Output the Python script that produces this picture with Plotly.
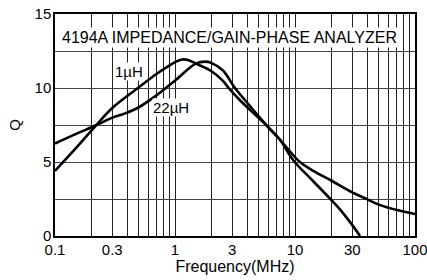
import plotly.graph_objects as go

# ---- data ----
freq_1uH = [0.1, 0.15, 0.22, 0.3, 0.5, 0.7, 0.85, 1.0, 1.15, 1.3, 1.49, 2.0, 2.5, 2.8, 3.48, 5.97, 7.5, 9.7, 14.2, 20, 23.7, 30.9, 34.8]
q_1uH    = [4.4, 5.95, 7.48, 8.65, 10.05, 10.95, 11.4, 11.75, 11.93, 11.88, 11.65, 11.15, 10.5, 10.0, 9.17, 7.36, 6.5, 5.1, 3.7, 2.45, 1.8, 0.6, 0.0]

freq_22uH = [0.1, 0.15, 0.22, 0.3, 0.38, 0.5, 0.7, 1.0, 1.49, 1.8, 2.0, 2.5, 3.16, 3.84, 5.97, 7.5, 9.1, 11.0, 14.2, 20, 30, 38.3, 50, 70.6, 100]
q_22uH    = [6.25, 6.9, 7.48, 8.0, 8.27, 8.7, 9.5, 10.5, 11.65, 11.78, 11.7, 11.2, 10.0, 9.17, 7.36, 6.5, 5.7, 5.0, 4.4, 3.75, 2.95, 2.55, 2.12, 1.75, 1.48]

x_tickvals = [0.1, 0.3, 1, 3, 10, 30, 100]
x_ticktext = ["0.1", "0.3", "1", "3", "10", "30", "100"]
x_minorvals = [0.2, 0.4, 0.5, 0.6, 0.7, 0.8, 0.9, 2, 4, 5, 6, 7, 8, 9, 20, 40, 50, 60, 70, 80, 90]
y_tickvals = [0, 5, 10, 15]
y_minorvals = [2.5, 7.5, 12.5]

title_text = "4194A IMPEDANCE/GAIN-PHASE ANALYZER"
label_1uH = "1µH"
label_22uH = "22µH"

FONT = "Liberation Sans, Arial, Helvetica, sans-serif"

fig = go.Figure()
fig.add_trace(go.Scatter(x=freq_1uH, y=q_1uH, mode="lines", name=label_1uH,
                         line=dict(color="black", width=2.6, shape="spline", smoothing=1.0)))
fig.add_trace(go.Scatter(x=freq_22uH, y=q_22uH, mode="lines", name=label_22uH,
                         line=dict(color="black", width=2.6, shape="spline", smoothing=1.0)))

fig.update_layout(
    width=427, height=280,
    margin=dict(l=55, r=12, t=14, b=44, autoexpand=False),
    paper_bgcolor="white", plot_bgcolor="white",
    showlegend=False,
    font=dict(family=FONT, size=15, color="black"),
    xaxis=dict(
        type="log", range=[-1, 2],
        tickmode="array", tickvals=x_tickvals, ticktext=x_ticktext,
        showgrid=True, gridcolor="#222", gridwidth=1.2,
        minor=dict(tickmode="array", tickvals=x_minorvals, showgrid=True,
                   gridcolor="#222", gridwidth=1.2, ticks=""),
        showline=True, linecolor="black", linewidth=1.5, mirror=True,
        ticks="", zeroline=False, automargin=False,
        tickfont=dict(size=15), ticklabelstandoff=-1, ticklabeloverflow="allow",
        title=dict(text="Frequency(MHz)", font=dict(size=16), standoff=1),
    ),
    yaxis=dict(
        range=[0, 15],
        tickmode="array", tickvals=y_tickvals,
        showgrid=True, gridcolor="#444", gridwidth=1.2,
        minor=dict(tickmode="array", tickvals=y_minorvals, showgrid=True,
                   gridcolor="#444", gridwidth=1.2, ticks=""),
        showline=True, linecolor="black", linewidth=1.5, mirror=True,
        ticks="", zeroline=False, automargin=False,
        tickfont=dict(size=15), ticklabelstandoff=-1, ticklabeloverflow="allow",
        title=dict(text="Q", font=dict(size=15), standoff=10),
    ),
)

fig.add_annotation(text=title_text, xref="paper", yref="paper", x=0.485, y=0.94,
                   showarrow=False, bgcolor="white", font=dict(size=16), borderpad=1)
fig.add_annotation(text=label_1uH, x=-0.383, y=11.13, xref="x", yref="y",
                   showarrow=False, bgcolor="white", font=dict(size=15), borderpad=0)
fig.add_annotation(text=label_22uH, x=-0.033, y=8.66, xref="x", yref="y",
                   showarrow=False, bgcolor="white", font=dict(size=15), borderpad=0)

fig.write_html("out.html", config={"displayModeBar": False},
               post_script="document.body.style.margin='0';document.body.style.overflow='hidden';")
